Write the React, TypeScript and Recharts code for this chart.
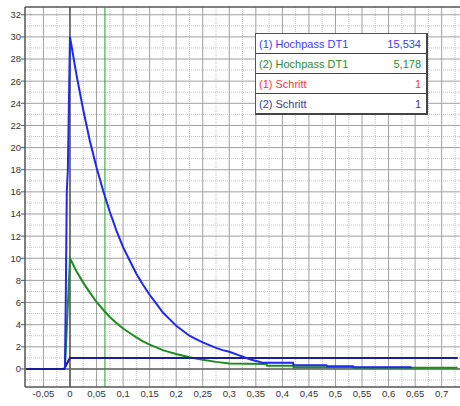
import React from "react";
import { LineChart, Line, XAxis, YAxis, CartesianGrid, ReferenceLine } from "recharts";

// Series (1) Hochpass DT1
const hp1T = [-0.0095, -0.008, -0.006, -0.004, -0.002, 0, 0.0125, 0.025, 0.0375, 0.05, 0.0625, 0.075, 0.0875, 0.1, 0.1125, 0.125, 0.1375, 0.15, 0.1625, 0.175, 0.1875, 0.2, 0.2125, 0.225, 0.2375, 0.25, 0.2625, 0.275, 0.2875, 0.3, 0.32, 0.34, 0.364, 0.42, 0.421, 0.483, 0.484, 0.533, 0.534, 0.643];
const hp1V = [0, 6, 16, 18, 24, 30, 26.5, 23.4, 20.6, 18.2, 16.1, 14.2, 12.5, 11.0, 9.8, 8.6, 7.6, 6.7, 5.9, 5.1, 4.5, 3.9, 3.45, 3.0, 2.7, 2.4, 2.15, 1.9, 1.7, 1.55, 1.2, 0.85, 0.55, 0.55, 0.33, 0.33, 0.24, 0.24, 0.15, 0.15];

// Series (2) Hochpass DT1
const hp2T = [-0.0095, 0, 0.0125, 0.025, 0.0375, 0.05, 0.0625, 0.075, 0.0875, 0.1, 0.1125, 0.125, 0.1375, 0.15, 0.1625, 0.175, 0.1875, 0.2, 0.225, 0.25, 0.275, 0.3, 0.37, 0.371, 0.42, 0.421, 0.533, 0.534, 0.73];
const hp2V = [0, 10, 8.8, 7.8, 6.9, 6.05, 5.35, 4.7, 4.15, 3.65, 3.25, 2.85, 2.5, 2.2, 1.95, 1.7, 1.52, 1.35, 1.05, 0.84, 0.64, 0.5, 0.45, 0.3, 0.3, 0.15, 0.15, 0.1, 0.1];

// Series (1) Schritt and (2) Schritt
const stepT = [-0.082, -0.011, 0, 0.73];
const step1V = [0, 0, 1, 1];
const step2V = [0, 0, 1, 1];

const cursorT = 0.0658;

const xTicks = [-0.05, 0, 0.05, 0.1, 0.15, 0.2, 0.25, 0.3, 0.35, 0.4, 0.45, 0.5, 0.55, 0.6, 0.65, 0.7];
const xMinor = [-0.075, -0.025, 0.025, 0.075, 0.125, 0.175, 0.225, 0.275, 0.325, 0.375, 0.425, 0.475, 0.525, 0.575, 0.625, 0.675, 0.725];
const yTicks = [0, 2, 4, 6, 8, 10, 12, 14, 16, 18, 20, 22, 24, 26, 28, 30, 32];
const yMinor = [-1, 1, 3, 5, 7, 9, 11, 13, 15, 17, 19, 21, 23, 25, 27, 29, 31];

const legendRows = [
  { label: "(1) Hochpass DT1", value: "15,534", color: "#3c3cff" },
  { label: "(2) Hochpass DT1", value: "5,178", color: "#2e8b2e" },
  { label: "(1) Schritt", value: "1", color: "#ff3a3a" },
  { label: "(2) Schritt", value: "1", color: "#3a3a9a" },
];

const X_DOMAIN: [number, number] = [-0.0847, 0.7345];
const Y_DOMAIN: [number, number] = [-1.63, 32.7];

const toRows = (ts: number[], vs: number[]) => ts.map((t, i) => ({ t, v: vs[i] }));

const fmt = (v: number) => String(v).replace(".", ",");

const FONT = "'Liberation Sans', Arial, sans-serif";

export default function App() {
  return (
    <div style={{ position: "absolute", left: 0, top: 0, width: 460, height: 406, background: "#fff" }}>
      <LineChart width={460} height={406} margin={{ top: 7, right: 0, bottom: 0, left: 0 }}>
        <CartesianGrid
          stroke="#c4c4c4"
          strokeDasharray="1 1"
          horizontalValues={yMinor}
          verticalValues={xMinor}
        />
        <CartesianGrid stroke="#a0a0a0" horizontalValues={yTicks} verticalValues={xTicks} />
        <XAxis
          type="number"
          dataKey="t"
          domain={X_DOMAIN}
          allowDataOverflow
          ticks={xTicks}
          tickFormatter={fmt}
          height={19}
          tickLine={false}
          tickSize={2}
          tickMargin={1}
          axisLine={{ stroke: "#555", strokeWidth: 1.5 }}
          tick={{ fontSize: 9.5, fill: "#333", fontFamily: FONT }}
          interval={0}
        />
        <YAxis
          type="number"
          domain={Y_DOMAIN}
          allowDataOverflow
          ticks={yTicks}
          width={25}
          tickSize={4}
          tickMargin={0}
          tickLine={{ stroke: "#555" }}
          axisLine={{ stroke: "#555", strokeWidth: 1.5 }}
          tick={{ fontSize: 9.5, fill: "#333", fontFamily: FONT }}
          interval={0}
        />
        <ReferenceLine x={0} stroke="#555" strokeWidth={1.5} />
        <ReferenceLine y={0} stroke="#666" strokeWidth={1.5} />
        <ReferenceLine y={Y_DOMAIN[1]} stroke="#555" strokeWidth={1.5} />
        <ReferenceLine x={cursorT} stroke="#22a022" strokeWidth={1} />
        <Line data={toRows(stepT, step1V)} dataKey="v" stroke="#ff2020" strokeWidth={2} dot={false} isAnimationActive={false} />
        <Line data={toRows(hp2T, hp2V)} dataKey="v" stroke="#1e8c1e" strokeWidth={2} dot={false} isAnimationActive={false} />
        <Line data={toRows(stepT, step2V)} dataKey="v" stroke="#1c1c94" strokeWidth={2} dot={false} isAnimationActive={false} />
        <Line data={toRows(hp1T, hp1V)} dataKey="v" stroke="#1e28f0" strokeWidth={2} dot={false} isAnimationActive={false} />
      </LineChart>
      <div
        style={{
          position: "absolute",
          left: 255,
          top: 33,
          width: 170,
          background: "#fff",
          borderTop: "1px solid #555",
          borderLeft: "1px solid #555",
          borderRight: "2px solid #444",
          borderBottom: "2px solid #444",
          fontFamily: FONT,
          fontSize: 11,
        }}
      >
        {legendRows.map((r, i) => (
          <div
            key={i}
            style={{
              height: 19,
              display: "flex",
              alignItems: "center",
              justifyContent: "space-between",
              padding: "0 5px 0 3px",
              borderTop: i === 0 ? "none" : "1.5px solid #444",
              color: r.color,
            }}
          >
            <span>{r.label}</span>
            <span>{r.value}</span>
          </div>
        ))}
      </div>
    </div>
  );
}
